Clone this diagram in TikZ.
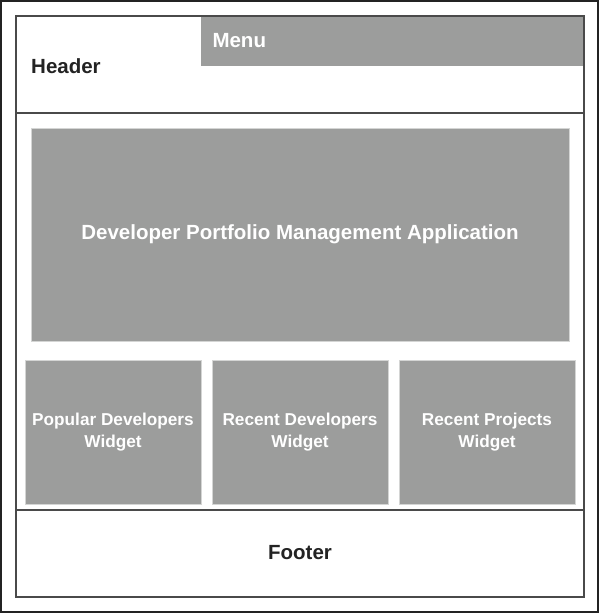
\documentclass[tikz,border=0pt]{standalone}
\usepackage{fontspec}
\setmainfont{Liberation Sans}
\definecolor{panelgrey}{HTML}{9C9D9C}
\definecolor{paneledge}{HTML}{D4D5D4}
\definecolor{framegrey}{HTML}{4A4A4A}
\definecolor{inkdark}{HTML}{232323}
\tikzset{
  panel/.style={rectangle, fill=panelgrey, draw=paneledge, line width=1pt, text=white, font=\bfseries\fontsize{17.2}{22}\selectfont, align=center, inner sep=0pt},
  title/.style={inner sep=0pt, font=\bfseries\fontsize{20.5}{24}\selectfont}
}
\begin{document}
\begin{tikzpicture}[x=1pt, y=-1pt]
      \useasboundingbox (0,0) rectangle (600,614);
      \draw[line width=2pt, draw=inkdark] (1,1) rectangle (598,612);

      \node[panel, anchor=north west, minimum width=384pt, minimum height=49pt, text width=360pt, align=left, draw=none, font=\bfseries\fontsize{20.5}{24}\selectfont] (menu) at (200,16) {Menu};

      \draw[line width=1.6pt, draw=framegrey] (16,16) rectangle (584,597);
      \draw[line width=1.6pt, draw=framegrey] (16,113) -- (584,113);
      \draw[line width=1.6pt, draw=framegrey] (16,510) -- (584,510);

      \node[title, text=inkdark, anchor=west] (header) at (31,66) {Header};
      \node[panel, minimum width=538pt, minimum height=213pt, font=\bfseries\fontsize{20.5}{24}\selectfont] (app) at (300,234.5) {Developer Portfolio Management Application};

      \node[panel, minimum width=176pt, minimum height=144pt] (popular) at (113,432) {Popular Developers\\Widget};
      \node[panel, minimum width=176pt, minimum height=144pt] (recentdev) at (300,432) {Recent Developers\\Widget};
      \node[panel, minimum width=176pt, minimum height=144pt] (recentproj) at (487,432) {Recent Projects\\Widget};

      \node[title, text=inkdark] (footer) at (300,553) {Footer};
    \end{tikzpicture}
\end{document}
